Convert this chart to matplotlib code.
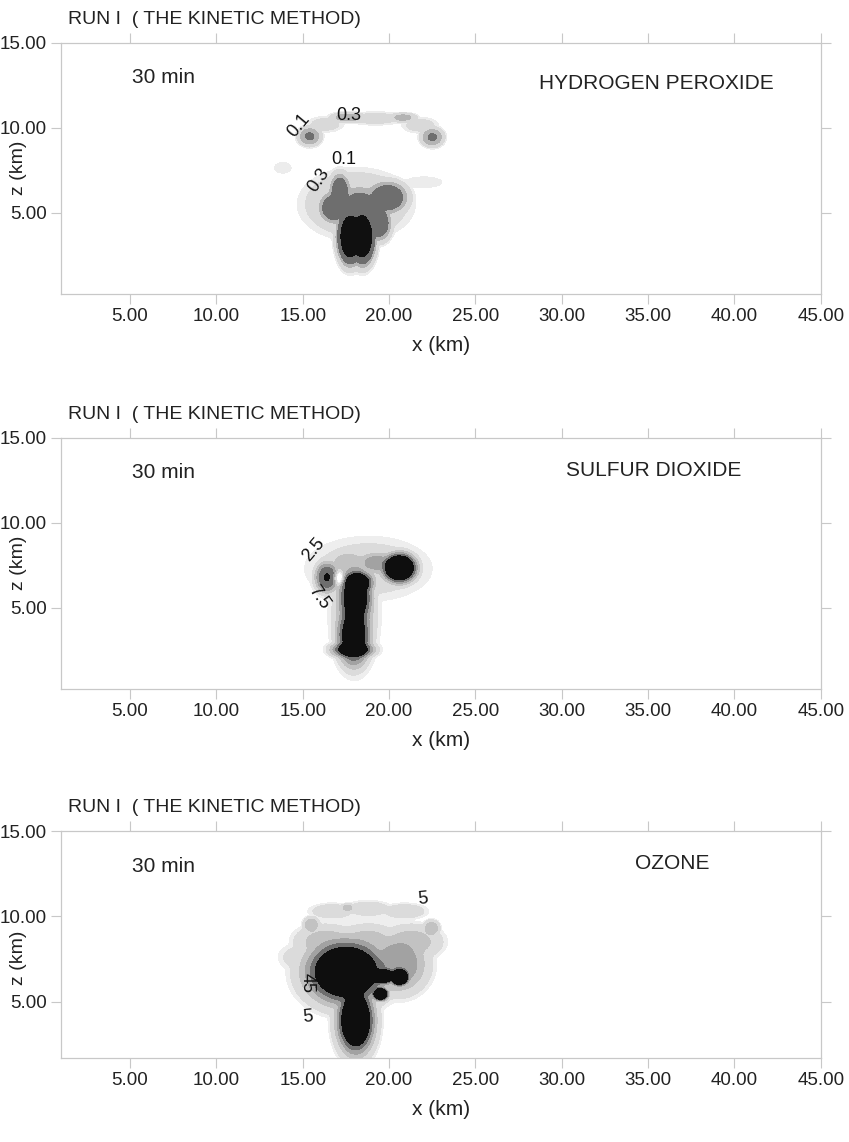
import numpy as np
import matplotlib
matplotlib.use('Agg')
import matplotlib.pyplot as plt

plt.rcParams['font.family'] = ['Liberation Sans', 'DejaVu Sans']

# Each field is built from blobs: centre x, centre z, spread x, spread z, amplitude.
# Positive blobs are merged with a soft maximum, negative ones are added afterwards.
H2O2_X = [15.4, 22.5, 17.6, 20.8, 16.3, 19.2, 21.8, 13.85,
          17.75, 18.45, 17.15, 16.8, 18.3, 19.9, 19.4, 18.1, 22.0]
H2O2_Z = [9.5, 9.45, 10.6, 10.6, 10.2, 10.55, 10.15, 7.65,
          3.6, 3.6, 6.2, 5.3, 5.3, 5.9, 4.4, 5.5, 6.8]
H2O2_SX = [0.5, 0.5, 0.75, 0.6, 0.8, 1.3, 0.8, 0.45,
           0.55, 0.55, 0.45, 0.65, 0.9, 0.9, 0.55, 2.2, 1.0]
H2O2_SZ = [0.42, 0.42, 0.22, 0.2, 0.35, 0.3, 0.35, 0.3,
           1.2, 1.2, 0.85, 0.7, 0.85, 0.72, 0.8, 1.4, 0.3]
H2O2_AMP = [0.53, 0.53, 0.42, 0.38, 0.16, 0.16, 0.16, 0.09,
            1.6, 1.6, 0.8, 0.8, 0.8, 0.8, 0.8, 0.33, 0.09]
H2O2_LEVELS = [0.05, 0.1, 0.3, 0.5, 1.0, 100]

SO2_X = [17.95, 18.05, 18.2, 17.9, 18.0, 20.6, 18.8, 16.4, 19.3, 17.6, 17.1]
SO2_Z = [3.4, 5.6, 6.5, 2.55, 4.5, 7.35, 7.3, 6.8, 7.65, 7.7, 6.75]
SO2_SX = [0.8, 0.8, 0.75, 1.0, 1.0, 0.82, 2.7, 0.57, 0.9, 0.9, 0.25]
SO2_SZ = [1.5, 1.5, 0.55, 0.4, 2.4, 0.72, 1.4, 0.76, 0.5, 0.55, 0.3]
SO2_AMP = [16, 16, 16, 16, 8, 20, 4.5, 12.6, 9, 6, -7]
SO2_LEVELS = [1.25, 2.5, 5, 7.5, 10, 12.5, 1000]

O3_X = [17.5, 18.07, 20.6, 19.6, 19.5, 20.5, 16.3, 18.8, 21.3,
        16.7, 18.8, 20.9, 18.8, 15.5, 22.45, 17.6, 14.6]
O3_Z = [6.75, 3.9, 6.45, 6.5, 5.45, 7.2, 8.5, 8.5, 8.5,
        10.3, 10.45, 10.3, 9.8, 9.5, 9.3, 10.5, 7.6]
O3_SX = [1.85, 0.85, 0.4, 0.6, 0.35, 1.3, 1.3, 1.3, 1.3,
         1.0, 1.0, 1.0, 2.6, 0.35, 0.35, 0.3, 0.8]
O3_SZ = [1.5, 1.55, 0.37, 0.35, 0.3, 1.3, 0.75, 0.75, 0.75,
         0.35, 0.35, 0.35, 0.5, 0.35, 0.35, 0.18, 0.6]
O3_AMP = [70, 70, 100, 80, 80, 34, 20, 20, 20,
          10, 10, 10, 3.5, 24, 24, 20, 7]
O3_LEVELS = [2.5, 5, 15, 25, 35, 45, 1000]

GRAYS_5 = ['#ececec', '#d9d9d9', '#b4b4b4', '#6e6e6e', '#101010']
GRAYS_6 = ['#eeeeee', '#dbdbdb', '#c2c2c2', '#a2a2a2', '#6e6e6e', '#0e0e0e']

x = np.linspace(1, 45, 881)
z = np.linspace(0.25, 15, 296)
X, Z = np.meshgrid(x, z)


def field(xs, zs, sxs, szs, amps, p=1.5, k=4):
    top = np.zeros_like(X)
    dip = np.zeros_like(X)
    for x0, z0, sx, sz, a in zip(xs, zs, sxs, szs, amps):
        q = ((X - x0) / sx) ** 2 + ((Z - z0) / sz) ** 2
        g = a * np.exp(-0.5 * q ** p)
        if a > 0:
            top += g ** k
        else:
            dip += g
    return top ** (1.0 / k) + dip


# contour labels: (level, x, z, rotation)
panels = [
    (field(H2O2_X, H2O2_Z, H2O2_SX, H2O2_SZ, H2O2_AMP), H2O2_LEVELS, GRAYS_5,
     'HYDROGEN PEROXIDE', 35.5, 12.6,
     [(0.1, 14.8, 10.15, 50), (0.3, 17.65, 10.7, 0), (0.1, 17.4, 8.15, 0), (0.3, 15.95, 6.95, 55)]),
    (field(SO2_X, SO2_Z, SO2_SX, SO2_SZ, SO2_AMP), SO2_LEVELS, GRAYS_6,
     'SULFUR DIOXIDE', 35.3, 13.1,
     [(2.5, 15.65, 8.4, 50), (7.5, 15.95, 5.6, -55)]),
    (field(O3_X, O3_Z, O3_SX, O3_SZ, O3_AMP), O3_LEVELS, GRAYS_6,
     'OZONE', 36.4, 13.1,
     [(5, 21.95, 11.0, 5), (45, 15.25, 6.1, -90), (5, 15.3, 4.1, 5)]),
]

fig = plt.figure(figsize=(8.49, 11.42), dpi=100)
# axes boxes in figure fractions: top, height, lower z limit, y-label height
boxes = [(0.9626, 0.2198, 0.25, 0.5), (0.6167, 0.2198, 0.25, 0.5),
         (0.2723, 0.1988, 1.7, 0.44)]

for (data, levels, grays, name, nx, nz, labels), (top, h, zmin, ly) in zip(panels, boxes):
    ax = fig.add_axes([0.0718, top - h, 0.895, h])
    ax.contourf(X, Z, data, levels=levels, colors=grays)
    for lev, lx, lz, rot in labels:
        ax.text(lx, lz, f'{lev:g}', fontsize=13, rotation=rot, ha='center', va='center',
                color='#111111', rotation_mode='anchor')

    ax.set_xlim(1, 45)
    ax.set_ylim(zmin, 15)
    ax.set_xticks(np.arange(5, 46, 5))
    ax.set_yticks([5, 10, 15])
    ax.xaxis.set_major_formatter(plt.FormatStrFormatter('%.2f'))
    ax.yaxis.set_major_formatter(plt.FormatStrFormatter('%.2f'))
    ax.tick_params(direction='out', length=7, width=0.8, labelsize=13.5, pad=3,
                   top=True, right=True, labelcolor='#222222', color='#c8c8c8')
    for s in ax.spines.values():
        s.set_color('#c8c8c8')
        s.set_linewidth(0.9)
    ax.set_xlabel('x (km)', fontsize=15, labelpad=8, color='#222222')
    ax.set_ylabel('z (km)', fontsize=14, color='#222222')
    ax.yaxis.set_label_coords(-0.045, ly)

    ax.text(5.1, 12.95, '30 min', fontsize=15, va='center', ha='left', color='#222222')
    ax.text(nx, nz, name, fontsize=15, va='center', ha='center', color='#222222')
    fig.text(0.080, top + 0.0205, 'RUN I  ( THE KINETIC METHOD)', fontsize=14,
             va='center', ha='left', color='#222222')

fig.savefig('out.png', dpi=100, facecolor='white')
